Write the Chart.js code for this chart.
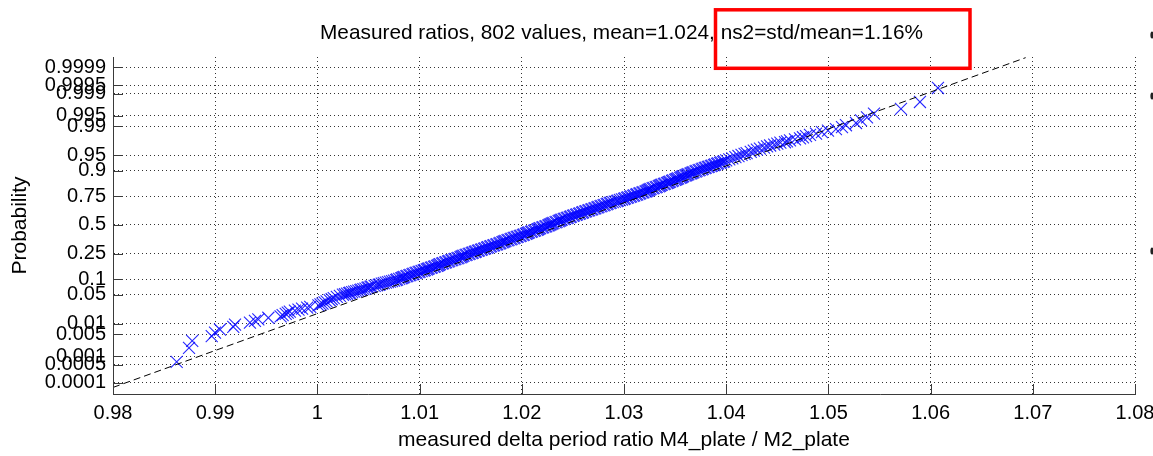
<!DOCTYPE html>
<html>
<head>
<meta charset="utf-8">
<script src="https://cdn.jsdelivr.net/npm/chart.js@4.4.1/dist/chart.umd.min.js"></script>
<style>
  html, body { margin: 0; padding: 0; background: #fff; }
  #wrap { width: 1153px; height: 456px; }
</style>
</head>
<body>
<div id="wrap"><canvas id="c" width="1153" height="456"></canvas></div>
<script>
// Normal probability plot of the measured period ratios.

const titleText = 'Measured ratios, 802 values, mean=1.024, ns2=std/mean=1.16%';
const xTitle = 'measured delta period ratio M4_plate / M2_plate';
const yTitle = 'Probability';

// x axis ticks
const xTickValues = [0.98, 0.99, 1.00, 1.01, 1.02, 1.03, 1.04, 1.05, 1.06, 1.07, 1.08];
const xTickLabels = ['0.98', '0.99', '1', '1.01', '1.02', '1.03', '1.04', '1.05', '1.06', '1.07', '1.08'];

// probability axis ticks
const probTicks = [0.0001, 0.0005, 0.001, 0.005, 0.01, 0.05, 0.1, 0.25, 0.5, 0.75, 0.9, 0.95, 0.99, 0.995, 0.999, 0.9995, 0.9999];
const probTickLabels = ['0.0001', '0.0005', '0.001', '0.005', '0.01', '0.05', '0.1', '0.25', '0.5', '0.75', '0.9', '0.95', '0.99', '0.995', '0.999', '0.9995', '0.9999'];

// lower tail: sorted ratios and their plotting probabilities
const lowTailX = [0.98623, 0.98744, 0.98775, 0.98966, 0.98998, 0.99047, 0.99177, 0.99194, 0.99340, 0.99389, 0.99422,
                  0.99520, 0.99640, 0.99660, 0.99690, 0.99710, 0.99730, 0.99780, 0.99815, 0.99850, 0.99900, 0.99930];
const lowTailP = [0.000623, 0.00187, 0.00312, 0.00436, 0.00561, 0.00686, 0.00810, 0.00935, 0.01060, 0.01185, 0.01309,
                  0.01434, 0.01559, 0.01683, 0.01808, 0.01933, 0.02057, 0.02182, 0.02307, 0.02431, 0.02556, 0.02681];

// lower half of the central body
const bodyLowX = [
  1.0001, 1.0003, 1.0005, 1.0007, 1.0009, 1.0012, 1.0014, 1.0016, 1.0019, 1.0022,
  1.0025, 1.0027, 1.0029, 1.0031, 1.0032, 1.0034, 1.0036, 1.0038, 1.0040, 1.0042,
  1.0043, 1.0045, 1.0047, 1.0049, 1.0050, 1.0052, 1.0053, 1.0056, 1.0058, 1.0060,
  1.0061, 1.0063, 1.0065, 1.0067, 1.0069, 1.0071, 1.0073, 1.0075, 1.0077, 1.0078,
  1.0080, 1.0082, 1.0083, 1.0084, 1.0085, 1.0087, 1.0088, 1.0090, 1.0091, 1.0093,
  1.0094, 1.0096, 1.0097, 1.0099, 1.0100, 1.0102, 1.0104, 1.0105, 1.0107, 1.0108,
  1.0109, 1.0111, 1.0112, 1.0114, 1.0115, 1.0117, 1.0118, 1.0119, 1.0120, 1.0122,
  1.0123, 1.0125, 1.0126, 1.0128, 1.0129, 1.0131, 1.0132, 1.0134, 1.0135, 1.0137,
  1.0138, 1.0140, 1.0141, 1.0142, 1.0143, 1.0145, 1.0146, 1.0148, 1.0149, 1.0151,
  1.0152, 1.0154, 1.0155, 1.0157, 1.0158, 1.0160, 1.0161, 1.0163, 1.0164, 1.0166,
  1.0167, 1.0169, 1.0170, 1.0172, 1.0173, 1.0175, 1.0176, 1.0178, 1.0179, 1.0181,
  1.0182, 1.0183, 1.0184, 1.0186, 1.0187, 1.0189, 1.0190, 1.0192, 1.0193, 1.0195,
  1.0196, 1.0198, 1.0199, 1.0201, 1.0202, 1.0204, 1.0205, 1.0206, 1.0207, 1.0209,
  1.0210, 1.0212, 1.0213, 1.0215, 1.0216, 1.0217, 1.0218, 1.0220, 1.0221, 1.0223,
  1.0224, 1.0226];
const bodyLowP = [
  0.029, 0.0305, 0.032, 0.034, 0.036, 0.038, 0.040, 0.0425, 0.045, 0.0475,
  0.050, 0.0512, 0.0525, 0.0538, 0.055, 0.0565, 0.058, 0.0595, 0.061, 0.0625,
  0.064, 0.0655, 0.067, 0.0688, 0.0705, 0.0722, 0.074, 0.0758, 0.0775, 0.0792,
  0.081, 0.083, 0.085, 0.087, 0.089, 0.091, 0.093, 0.095, 0.097, 0.0992,
  0.1015, 0.1038, 0.106, 0.1082, 0.1105, 0.1128, 0.115, 0.1175, 0.120, 0.1225,
  0.125, 0.1278, 0.1305, 0.1332, 0.136, 0.1388, 0.1415, 0.1442, 0.147, 0.150,
  0.153, 0.156, 0.159, 0.162, 0.165, 0.168, 0.171, 0.1742, 0.1775, 0.1808,
  0.184, 0.1875, 0.191, 0.1945, 0.198, 0.2015, 0.205, 0.2085, 0.212, 0.2158,
  0.2195, 0.2232, 0.227, 0.2308, 0.2345, 0.2382, 0.242, 0.246, 0.250, 0.254,
  0.258, 0.262, 0.266, 0.270, 0.274, 0.2782, 0.2825, 0.2868, 0.291, 0.2955,
  0.300, 0.3045, 0.309, 0.3132, 0.3175, 0.3218, 0.326, 0.3308, 0.3355, 0.3402,
  0.345, 0.3495, 0.354, 0.3585, 0.363, 0.3678, 0.3725, 0.3772, 0.382, 0.3868,
  0.3915, 0.3962, 0.401, 0.406, 0.411, 0.416, 0.421, 0.4258, 0.4305, 0.4352,
  0.440, 0.445, 0.450, 0.455, 0.460, 0.465, 0.470, 0.475, 0.480, 0.485,
  0.490, 0.495];

// upper half of the central body
const bodyHighX = [
  1.0227, 1.0228, 1.0229, 1.0230, 1.0231, 1.0233, 1.0234, 1.0236, 1.0237, 1.0238,
  1.0239, 1.0241, 1.0242, 1.0244, 1.0245, 1.0247, 1.0248, 1.0250, 1.0251, 1.0253,
  1.0254, 1.0256, 1.0257, 1.0259, 1.0260, 1.0262, 1.0263, 1.0265, 1.0266, 1.0268,
  1.0269, 1.0271, 1.0272, 1.0274, 1.0275, 1.0277, 1.0278, 1.0280, 1.0281, 1.0283,
  1.0284, 1.0286, 1.0287, 1.0289, 1.0291, 1.0293, 1.0294, 1.0296, 1.0298, 1.0300,
  1.0301, 1.0303, 1.0304, 1.0306, 1.0307, 1.0309, 1.0310, 1.0312, 1.0313, 1.0315,
  1.0316, 1.0318, 1.0319, 1.0321, 1.0322, 1.0323, 1.0324, 1.0325, 1.0326, 1.0328,
  1.0329, 1.0331, 1.0332, 1.0334, 1.0335, 1.0336, 1.0337, 1.0339, 1.0340, 1.0342,
  1.0343, 1.0344, 1.0345, 1.0347, 1.0348, 1.0350, 1.0351, 1.0352, 1.0353, 1.0355,
  1.0356, 1.0357, 1.0358, 1.0360, 1.0361, 1.0362, 1.0363, 1.0365, 1.0366, 1.0367,
  1.0368, 1.0370, 1.0371, 1.0373, 1.0374, 1.0376, 1.0377, 1.0379, 1.0380, 1.0382,
  1.0383, 1.0385, 1.0386, 1.0388, 1.0389, 1.0391, 1.0392, 1.0394, 1.0395, 1.0397,
  1.0398, 1.0400, 1.0403, 1.0406, 1.0409, 1.0412, 1.0415, 1.0418, 1.0420, 1.0424,
  1.0427, 1.0430, 1.0433, 1.0437, 1.0440, 1.0443, 1.0447, 1.0450, 1.0453];
const bodyHighP = [
  0.500, 0.505, 0.510, 0.515, 0.520, 0.525, 0.530, 0.535, 0.540, 0.545,
  0.550, 0.555, 0.560, 0.5648, 0.5695, 0.5742, 0.579, 0.584, 0.589, 0.594,
  0.599, 0.6038, 0.6085, 0.6132, 0.618, 0.6228, 0.6275, 0.6322, 0.637, 0.6415,
  0.646, 0.6505, 0.655, 0.6598, 0.6645, 0.6692, 0.674, 0.6785, 0.683, 0.6875,
  0.692, 0.6962, 0.7005, 0.7048, 0.709, 0.7132, 0.7175, 0.7218, 0.726, 0.730,
  0.734, 0.738, 0.742, 0.746, 0.750, 0.754, 0.758, 0.7618, 0.7655, 0.7692,
  0.773, 0.7768, 0.7805, 0.7842, 0.788, 0.7915, 0.795, 0.7985, 0.802, 0.8055,
  0.809, 0.8125, 0.816, 0.8192, 0.8225, 0.8258, 0.829, 0.832, 0.835, 0.838,
  0.841, 0.844, 0.847, 0.850, 0.853, 0.8558, 0.8585, 0.8612, 0.864, 0.8668,
  0.8695, 0.8722, 0.875, 0.8775, 0.880, 0.8825, 0.885, 0.8872, 0.8895, 0.8918,
  0.894, 0.8962, 0.8985, 0.9008, 0.903, 0.9052, 0.9075, 0.9098, 0.912, 0.9138,
  0.9155, 0.9172, 0.919, 0.921, 0.923, 0.925, 0.927, 0.9285, 0.930, 0.9315,
  0.933, 0.936, 0.939, 0.942, 0.945, 0.948, 0.951, 0.953, 0.955, 0.9575,
  0.960, 0.962, 0.964, 0.966, 0.968, 0.9695, 0.971, 0.9725, 0.974];

// upper tail
const highTailX = [1.04575, 1.04595, 1.04624, 1.04673, 1.04722, 1.04751, 1.04781, 1.04820, 1.04879, 1.04937, 1.04996,
                   1.05074, 1.05133, 1.05172, 1.05270, 1.05319, 1.05378, 1.05446, 1.05710, 1.05896, 1.06072];
const highTailP = [0.97444, 0.97569, 0.97693, 0.97818, 0.97943, 0.98067, 0.98192, 0.98317, 0.98441, 0.98566, 0.98691,
                   0.98815, 0.98940, 0.99065, 0.99190, 0.99314, 0.99439, 0.99564, 0.99688, 0.99813, 0.99938];

// fitted normal reference line (end points)
const refLineX = [0.98, 1.0693];
const refLineP = [0.000064, 0.99996];

// inverse standard normal CDF (Acklam) — maps probabilities onto the plot's linear quantile axis
function probit(p) {
  const a = [-3.969683028665376e+01, 2.209460984245205e+02, -2.759285104469687e+02, 1.383577518672690e+02, -3.066479806614716e+01, 2.506628277459239e+00];
  const b = [-5.447609879822406e+01, 1.615858368580409e+02, -1.556989798598866e+02, 6.680131188771972e+01, -1.328068155288572e+01];
  const c = [-7.784894002430293e-03, -3.223964580411365e-01, -2.400758277161838e+00, -2.549732539343734e+00, 4.374664141464968e+00, 2.938163982698783e+00];
  const d = [7.784695709041462e-03, 3.224671290700398e-01, 2.445134137142996e+00, 3.754408661907416e+00];
  const pl = 0.02425, ph = 1 - pl;
  let q, r;
  if (p < pl) {
    q = Math.sqrt(-2 * Math.log(p));
    return (((((c[0]*q+c[1])*q+c[2])*q+c[3])*q+c[4])*q+c[5]) / ((((d[0]*q+d[1])*q+d[2])*q+d[3])*q+1);
  }
  if (p > ph) {
    q = Math.sqrt(-2 * Math.log(1 - p));
    return -(((((c[0]*q+c[1])*q+c[2])*q+c[3])*q+c[4])*q+c[5]) / ((((d[0]*q+d[1])*q+d[2])*q+d[3])*q+1);
  }
  q = p - 0.5; r = q * q;
  return (((((a[0]*r+a[1])*r+a[2])*r+a[3])*r+a[4])*r+a[5])*q / (((((b[0]*r+b[1])*r+b[2])*r+b[3])*r+b[4])*r+1);
}

function toPoints(xs, ps) {
  return xs.map((x, i) => ({ x: x, y: probit(ps[i]) }));
}

const measured = [].concat(
  toPoints(lowTailX, lowTailP),
  toPoints(bodyLowX, bodyLowP),
  toPoints(bodyHighX, bodyHighP),
  toPoints(highTailX, highTailP)
);
const refLine = toPoints(refLineX, refLineP);

const FONT = '"Liberation Sans", Arial, Helvetica, sans-serif';
const AXIS_COLOR = '#3a3a3a';

// title, inward tick marks, red highlight frame and clipped glyphs at the right edge
const decorations = {
  id: 'decorations',
  afterDatasetsDraw(chart) {
    const ctx = chart.ctx;
    const area = chart.chartArea;
    const xs = chart.scales.x, ys = chart.scales.y;
    ctx.save();
    ctx.strokeStyle = AXIS_COLOR;
    ctx.lineWidth = 1;
    ctx.setLineDash([]);
    ctx.beginPath();
    xTickValues.forEach(v => {
      const px = Math.round(xs.getPixelForValue(v)) + 0.5;
      ctx.moveTo(px, area.bottom);
      ctx.lineTo(px, area.bottom - 10);
    });
    probTicks.forEach(p => {
      const py = Math.round(ys.getPixelForValue(probit(p))) + 0.5;
      ctx.moveTo(area.left, py);
      ctx.lineTo(area.left + 10, py);
    });
    ctx.stroke();
    ctx.restore();
  },
  afterDraw(chart) {
    const ctx = chart.ctx;
    const area = chart.chartArea;
    ctx.save();
    ctx.fillStyle = '#000';
    ctx.font = '20.8px ' + FONT;
    ctx.textAlign = 'center';
    ctx.textBaseline = 'middle';
    ctx.fillText(titleText, (area.left + area.right) / 2 - 2.5, 33);
    ctx.strokeStyle = '#ff0000';
    ctx.lineWidth = 3.5;
    ctx.strokeRect(715.5, 9.8, 254.5, 58.5);
    ctx.fillStyle = '#222';
    [35, 96, 251].forEach(y => {
      ctx.beginPath();
      ctx.ellipse(1152, y, 1.6, 3.6, 0, 0, Math.PI * 2);
      ctx.fill();
    });
    ctx.restore();
  }
};

new Chart(document.getElementById('c'), {
  type: 'scatter',
  data: {
    datasets: [
      {
        label: 'reference',
        data: refLine,
        showLine: true,
        borderColor: '#000',
        borderWidth: 1,
        borderDash: [7, 4],
        pointRadius: 0,
        fill: false
      },
      {
        label: 'ratios',
        data: measured,
        pointStyle: 'crossRot',
        pointRadius: 8.5,
        borderColor: 'rgba(0,0,255,0.85)',
        backgroundColor: 'rgba(0,0,255,0.85)',
        pointBorderWidth: 1.1,
        showLine: false
      }
    ]
  },
  options: {
    responsive: false,
    animation: false,
    events: [],
    layout: { padding: { left: 0, right: 18, top: 57, bottom: 0 } },
    plugins: {
      legend: { display: false },
      tooltip: { enabled: false },
      title: { display: false }
    },
    scales: {
      x: {
        type: 'linear',
        min: 0.98,
        max: 1.08,
        afterBuildTicks(scale) { scale.ticks = xTickValues.map(v => ({ value: v })); },
        afterFit(scale) { scale.height = 62; scale.paddingLeft = 0; scale.paddingRight = 0; },
        grid: { color: 'rgba(0,0,0,0.8)', lineWidth: 1, drawTicks: false },
        border: { display: true, color: AXIS_COLOR, width: 1, dash: [1, 3] },
        ticks: {
          autoSkip: false, maxRotation: 0, padding: 7, color: '#000',
          font: { family: FONT, size: 20 },
          callback: (v, i) => xTickLabels[i]
        },
        title: {
          display: true, text: xTitle, color: '#000',
          font: { family: FONT, size: 21, lineHeight: 1.2 },
          padding: { top: 0, bottom: 3.4 }
        }
      },
      y: {
        type: 'linear',
        min: -3.985,
        max: 3.96,
        afterBuildTicks(scale) { scale.ticks = probTicks.map(p => ({ value: probit(p) })); },
        afterFit(scale) { scale.width = 113; scale.paddingTop = 0; scale.paddingBottom = 0; },
        grid: { color: 'rgba(0,0,0,0.8)', lineWidth: 1, drawTicks: false },
        border: { display: true, color: AXIS_COLOR, width: 1, dash: [1, 3] },
        ticks: {
          autoSkip: false, padding: 7, color: '#000',
          font: { family: FONT, size: 20 },
          callback: (v, i) => probTickLabels[i]
        },
        title: {
          display: true, text: yTitle, color: '#000',
          font: { family: FONT, size: 21, lineHeight: 1.2 },
          padding: { top: 7.4, bottom: 0 }
        }
      }
    }
  },
  plugins: [decorations]
});
</script>
</body>
</html>
